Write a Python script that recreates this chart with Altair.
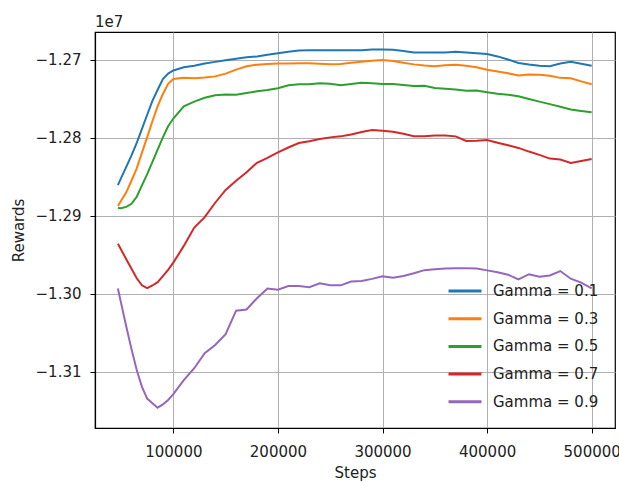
import altair as alt
import pandas as pd

steps = [47000, 50000, 55000, 60000, 65000, 70000, 75000, 80000, 85000, 90000, 95000,
         100000, 110000, 120000, 130000, 140000, 150000, 160000, 170000, 180000, 190000,
         200000, 210000, 220000, 230000, 240000, 250000, 260000, 270000, 280000, 290000,
         300000, 310000, 320000, 330000, 340000, 350000, 360000, 370000, 380000, 390000,
         400000, 410000, 420000, 430000, 440000, 450000, 460000, 470000, 480000, 490000,
         500000]

# rewards in units of 1e7
gamma_01 = [-1.28610, -1.28520, -1.28376, -1.28230, -1.28067, -1.27890, -1.27708, -1.27530, -1.27387, -1.27250, -1.27180,
            -1.27140, -1.27100, -1.27080, -1.27050, -1.27030, -1.27010, -1.26990, -1.26970, -1.26960, -1.26940,
            -1.26920, -1.26900, -1.26885, -1.26880, -1.26880, -1.26880, -1.26880, -1.26880, -1.26880, -1.26870,
            -1.26870, -1.26875, -1.26890, -1.26910, -1.26910, -1.26910, -1.26910, -1.26900, -1.26910, -1.26920,
            -1.26930, -1.26960, -1.27000, -1.27045, -1.27065, -1.27080, -1.27085, -1.27050, -1.27030, -1.27055,
            -1.27080]
gamma_03 = [-1.28876, -1.28811, -1.28703, -1.28551, -1.28395, -1.28194, -1.27994, -1.27792, -1.27598, -1.27442, -1.27311,
            -1.27250, -1.27235, -1.27240, -1.27231, -1.27216, -1.27181, -1.27129, -1.27086, -1.27066, -1.27056,
            -1.27050, -1.27050, -1.27049, -1.27049, -1.27055, -1.27060, -1.27058, -1.27040, -1.27028, -1.27017,
            -1.27007, -1.27020, -1.27040, -1.27062, -1.27078, -1.27085, -1.27073, -1.27068, -1.27080, -1.27098,
            -1.27130, -1.27152, -1.27175, -1.27205, -1.27193, -1.27195, -1.27207, -1.27235, -1.27240, -1.27280,
            -1.27318]
gamma_05 = [-1.28902, -1.28906, -1.28889, -1.28850, -1.28759, -1.28614, -1.28469, -1.28311, -1.28154, -1.27998, -1.27856,
            -1.27756, -1.27600, -1.27539, -1.27491, -1.27457, -1.27447, -1.27450, -1.27428, -1.27408, -1.27390,
            -1.27367, -1.27329, -1.27318, -1.27318, -1.27304, -1.27310, -1.27330, -1.27315, -1.27298, -1.27305,
            -1.27314, -1.27314, -1.27325, -1.27340, -1.27337, -1.27364, -1.27375, -1.27385, -1.27400, -1.27398,
            -1.27418, -1.27440, -1.27450, -1.27472, -1.27507, -1.27540, -1.27572, -1.27605, -1.27640, -1.27660,
            -1.27677]
gamma_07 = [-1.29362, -1.29435, -1.29561, -1.29683, -1.29805, -1.29894, -1.29932, -1.29897, -1.29855, -1.29778, -1.29697,
            -1.29604, -1.29389, -1.29154, -1.29020, -1.28836, -1.28672, -1.28555, -1.28444, -1.28323, -1.28262,
            -1.28190, -1.28128, -1.28070, -1.28047, -1.28020, -1.27998, -1.27985, -1.27960, -1.27930, -1.27905,
            -1.27912, -1.27925, -1.27952, -1.27983, -1.27985, -1.27975, -1.27975, -1.27985, -1.28043, -1.28040,
            -1.28033, -1.28066, -1.28100, -1.28133, -1.28180, -1.28222, -1.28270, -1.28282, -1.28325, -1.28300,
            -1.28276]
gamma_09 = [-1.29936, -1.30120, -1.30422, -1.30713, -1.30981, -1.31197, -1.31347, -1.31406, -1.31464, -1.31422, -1.31364,
            -1.31290, -1.31110, -1.30958, -1.30765, -1.30660, -1.30520, -1.30220, -1.30205, -1.30060, -1.29935,
            -1.29950, -1.29905, -1.29905, -1.29920, -1.29870, -1.29895, -1.29895, -1.29845, -1.29840, -1.29812,
            -1.29780, -1.29797, -1.29775, -1.29740, -1.29700, -1.29690, -1.29680, -1.29677, -1.29677, -1.29680,
            -1.29703, -1.29727, -1.29758, -1.29818, -1.29752, -1.29785, -1.29768, -1.29712, -1.29810, -1.29860,
            -1.29933]

SCALE = 1e7
labels = ["Gamma = 0.1", "Gamma = 0.3", "Gamma = 0.5", "Gamma = 0.7", "Gamma = 0.9"]
colors = ["#1f77b4", "#ff7f0e", "#2ca02c", "#d62728", "#9467bd"]
series = [gamma_01, gamma_03, gamma_05, gamma_07, gamma_09]

x_ticks = [100000, 200000, 300000, 400000, 500000]
y_ticks = [-13100000, -13000000, -12900000, -12800000, -12700000]

rows = []
for i, (lab, vals) in enumerate(zip(labels, series)):
    for s, v in zip(steps, vals):
        rows.append({"Steps": s, "Rewards": v * SCALE, "series": lab, "k": i})
df = pd.DataFrame(rows)

FONT = "DejaVu Sans"
FS = 15

chart = alt.Chart(df).mark_line(strokeWidth=2, clip=True).encode(
    x=alt.X("Steps:Q",
            scale=alt.Scale(domain=[25100, 522300], nice=False, zero=False),
            axis=alt.Axis(values=x_ticks, format="d", title="Steps",
                          labelPadding=11, titlePadding=6)),
    y=alt.Y("Rewards:Q",
            scale=alt.Scale(domain=[-13172400, -12664700], nice=False, zero=False),
            axis=alt.Axis(values=y_ticks, title="Rewards", labelPadding=9, titlePadding=9,
                          labelExpr="replace(format(datum.value / 10000000, '.2f'), '-', '\u2212')")),
    color=alt.Color("series:N",
                    scale=alt.Scale(domain=labels, range=colors),
                    legend=alt.Legend(title=None, orient="none", legendX=360, legendY=249,
                                      symbolType="M-2,0L2,0", symbolSize=272, symbolStrokeWidth=3,
                                      labelFontSize=FS, labelFont=FONT, labelColor="#222222",
                                      labelOffset=18, rowPadding=9.7, padding=0)),
    order=alt.Order("k:Q"),
).properties(
    width=520, height=396,
    title=alt.TitleParams("1e7", anchor="start", fontSize=FS, fontWeight="normal",
                          font=FONT, color="#222222", offset=2, frame="group"),
    autosize=alt.AutoSizeParams(type="none"),
    padding={"left": 95, "top": 32, "right": 4, "bottom": 54},
).configure(
    font=FONT,
).configure_view(
    stroke="black", strokeWidth=1.2,
).configure_axis(
    domainColor="black", domainWidth=1.2,
    tickColor="black", tickSize=5, tickWidth=1,
    gridColor="#b0b0b0", gridWidth=1,
    labelFont=FONT, labelFontSize=FS, labelColor="#222222",
    titleFont=FONT, titleFontSize=FS, titleFontWeight="normal", titleColor="#222222",
)

chart.save("out.html", embed_options={"renderer": "svg", "actions": False})
